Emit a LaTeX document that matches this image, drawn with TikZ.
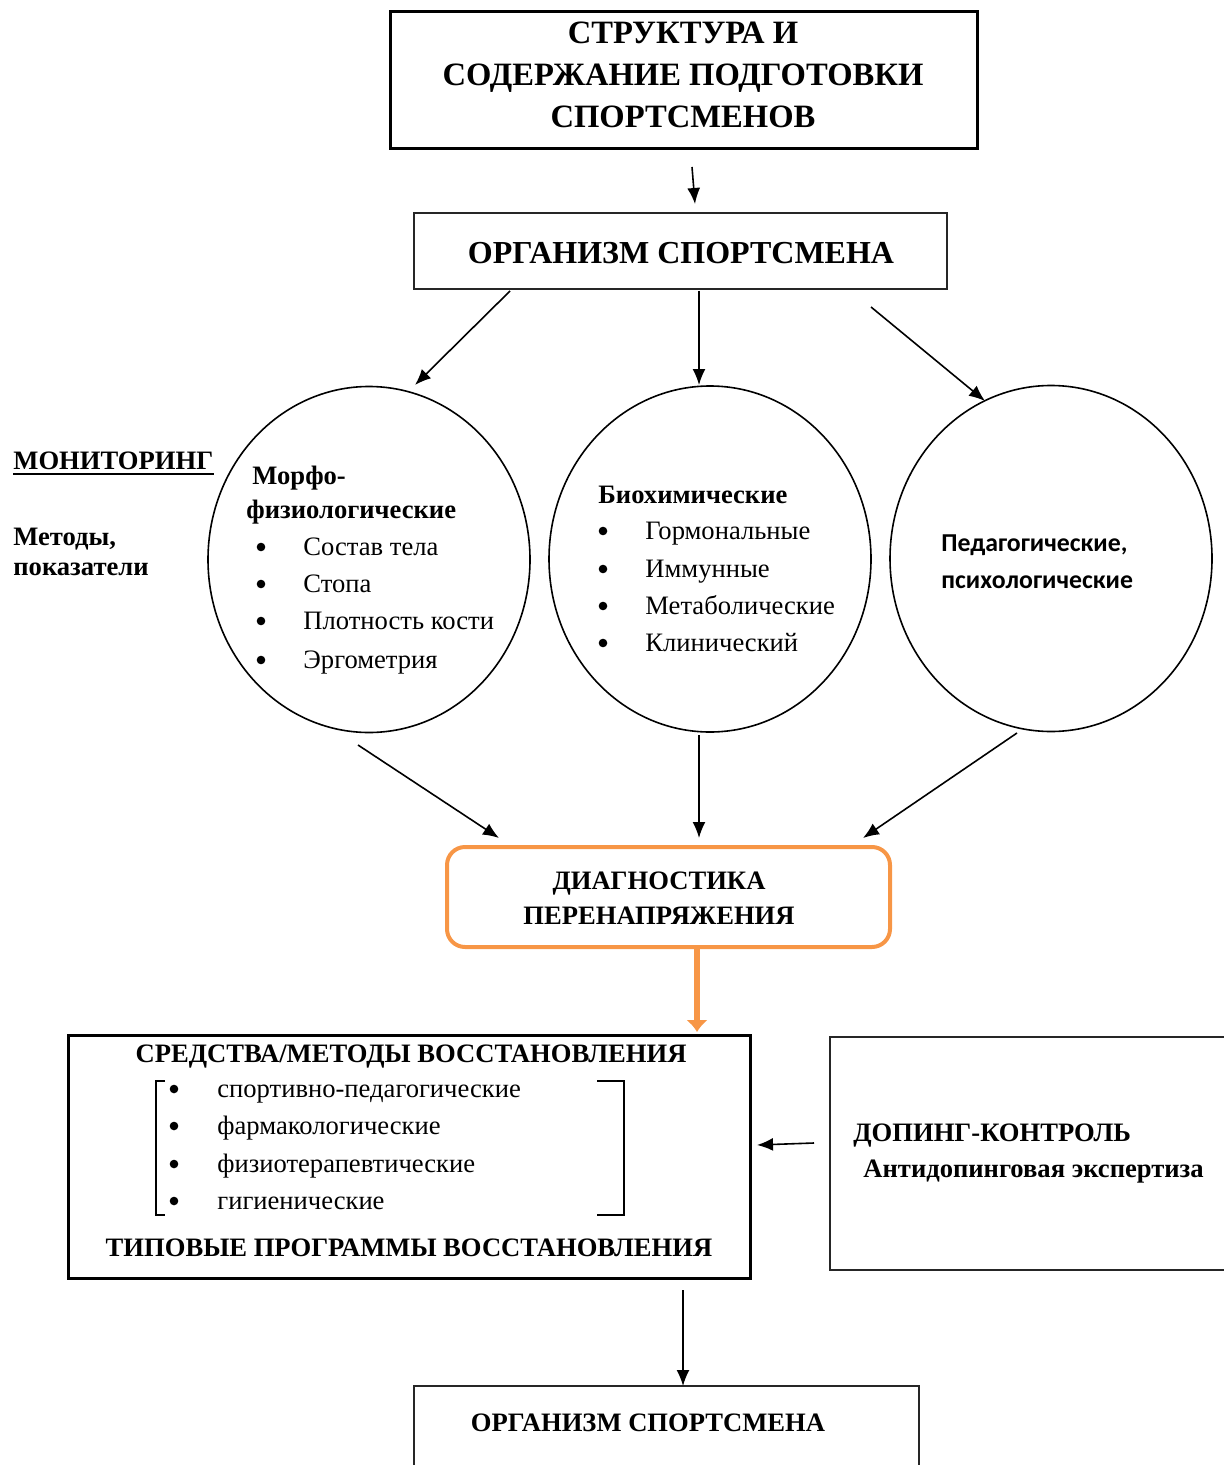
\documentclass[tikz,border=0pt]{standalone}
\usepackage{fontspec}
\setmainfont{Liberation Serif}
\newfontfamily\calibfont{Carlito}
\usetikzlibrary{shapes.geometric,arrows.meta}
\definecolor{orng}{HTML}{F79646}
\newcommand\fTitle{\fontsize{16.3}{21}\selectfont\bfseries}
\newcommand\fBig{\fontsize{16}{20}\selectfont\bfseries}
\newcommand\fMid{\fontsize{13.3}{17}\selectfont\bfseries}
\newcommand\fTxt{\fontsize{13.3}{17}\selectfont}
\begin{document}
\begin{tikzpicture}[x=0.5pt,y=-0.5pt,
  arr/.style={line width=0.8pt,-{Latex[length=8pt,width=6.5pt]}},
  orarr/.style={line width=3pt,draw=orng,-{Latex[length=6pt,width=11pt]},orng},
  tl/.style={inner sep=0pt,anchor=base west},
  tc/.style={inner sep=0pt,anchor=base},
  thickbox/.style={draw,line width=1.5pt,inner sep=0pt},
  thinbox/.style={draw=black!85,line width=0.7pt,inner sep=0pt},
  circ/.style={draw,ellipse,line width=0.8pt,inner sep=0pt,minimum width=161pt,minimum height=173pt},
  bul/.style={fill,circle,inner sep=0pt,minimum size=4.3pt},
  brk/.style={line width=0.8pt}]
\useasboundingbox (0,0) rectangle (1224,1465);
\clip (0,0) rectangle (1224,1465);

% top box
\node[thickbox,minimum width=293.5pt,minimum height=68.5pt] (b1) at (683.5,80.5) {};
\node[tc] (t1) at (683,44) {\fTitle СТРУКТУРА И};
\node[tc] (t2) at (683,86) {\fTitle СОДЕРЖАНИЕ ПОДГОТОВКИ};
\node[tc] (t3) at (683,128) {\fTitle СПОРТСМЕНОВ};

% organism box
\node[thinbox,minimum width=266.5pt,minimum height=38pt] (b2) at (680.5,251) {};
\node[tc] (b2t) at (681,264) {\fBig ОРГАНИЗМ СПОРТСМЕНА};

% left labels
\node[tl] (mon) at (13,469) {\fMid МОНИТОРИНГ};
\draw[line width=1pt] ([yshift=-2.5pt]mon.base west) -- ([yshift=-2.5pt]mon.base east);
\node[tl] (met1) at (13,545) {\fMid Методы,};
\node[tl] (met2) at (13,575) {\fMid показатели};

% circles
\node[circ] (c1) at (369,559.5) {};
\node[circ] (c2) at (710,559) {};
\node[circ] (c3) at (1051,558.5) {};

% circle 1 text
\node[tl] (c1h1) at (252,484) {\fMid Морфо-};
\node[tl] (c1h2) at (246,518) {\fMid физиологические};
\foreach \yy/\txt [count=\i] in {555/Состав тела,592/Стопа,629/Плотность кости,668/Эргометрия}{
  \node[bul] (c1b\i) at (261,\yy-8) {};
  \node[tl] (c1i\i) at (303,\yy) {\fTxt \txt};
}
% circle 2 text
\node[tl] (c2h) at (598,503) {\fMid Биохимические};
\foreach \yy/\txt [count=\i] in {539/Гормональные,577/Иммунные,614/Метаболические,651/Клинический}{
  \node[bul] (c2b\i) at (603,\yy-8) {};
  \node[tl] (c2i\i) at (645,\yy) {\fTxt \txt};
}
% circle 3 text
\node[tl] (c3h1) at (941,551) {\calibfont\fontsize{12.9}{15}\selectfont\bfseries Педагогические,};
\node[tl] (c3h2) at (941,588) {\calibfont\fontsize{12.9}{15}\selectfont\bfseries психологические};

% diagnostics
\node[draw=orng,line width=2pt,rounded corners=9pt,minimum width=221.5pt,minimum height=50pt,inner sep=0pt] (dg) at (668.5,897) {};
\node[tc] (dg1) at (659,889) {\fMid ДИАГНОСТИКА};
\node[tc] (dg2) at (659,924) {\fMid ПЕРЕНАПРЯЖЕНИЯ};

% recovery box
\node[thickbox,minimum width=341pt,minimum height=121.5pt] (b3) at (409,1156.5) {};
\node[tc] (b3h) at (411,1062) {\fMid СРЕДСТВА/МЕТОДЫ ВОССТАНОВЛЕНИЯ};
\foreach \yy/\txt [count=\i] in {1097/спортивно-педагогические,1134/фармакологические,1172/физиотерапевтические,1209/гигиенические}{
  \node[bul] (b3b\i) at (174,\yy-8) {};
  \node[tl] (b3i\i) at (217,\yy) {\fTxt \txt};
}
\node[tc] (b3f) at (409,1256) {\fMid ТИПОВЫЕ ПРОГРАММЫ ВОССТАНОВЛЕНИЯ};
\coordinate (lb1) at (165,1081); \coordinate (lb2) at (156,1081);
\coordinate (lb3) at (156,1215); \coordinate (lb4) at (165,1215);
\draw[brk] (lb1) -- (lb2) -- (lb3) -- (lb4);
\coordinate (rb1) at (597,1081); \coordinate (rb2) at (624,1081);
\coordinate (rb3) at (624,1215); \coordinate (rb4) at (597,1215);
\draw[brk] (rb1) -- (rb2) -- (rb3) -- (rb4);

% doping box
\node[thinbox,minimum width=202pt,minimum height=116.5pt] (b4) at (1032,1153.5) {};
\node[tl] (b4a) at (853,1141) {\fMid ДОПИНГ-КОНТРОЛЬ};
\node[tl] (b4b) at (863,1177) {\fMid Антидопинговая экспертиза};

% bottom box
\node[thinbox,minimum width=252.5pt,minimum height=50pt] (b5) at (666.5,1436) {};
\node[tc] (b5t) at (648,1431) {\fMid ОРГАНИЗМ СПОРТСМЕНА};

% arrows
\coordinate (a0s) at (692,167); \coordinate (a0e) at (695,204);
\draw[arr] (a0s) -- (a0e);
\coordinate (a1s) at (510,291); \coordinate (a1e) at (415,385);
\draw[arr] (a1s) -- (a1e);
\coordinate (a2s) at (699,291); \coordinate (a2e) at (699,385);
\draw[arr] (a2s) -- (a2e);
\coordinate (a3s) at (871,307); \coordinate (a3e) at (985,401);
\draw[arr] (a3s) -- (a3e);
\coordinate (a4s) at (358,745); \coordinate (a4e) at (499,838);
\draw[arr] (a4s) -- (a4e);
\coordinate (a5s) at (699,735); \coordinate (a5e) at (699,838);
\draw[arr] (a5s) -- (a5e);
\coordinate (a6s) at (1017,733); \coordinate (a6e) at (863,838);
\draw[arr] (a6s) -- (a6e);
\coordinate (oas) at (697,949); \coordinate (oae) at (697,1032);
\draw[orarr] (oas) -- (oae);
\coordinate (a7s) at (814,1143); \coordinate (a7e) at (757,1145);
\draw[arr] (a7s) -- (a7e);
\coordinate (a8s) at (683,1290); \coordinate (a8e) at (683,1386);
\draw[arr] (a8s) -- (a8e);
\end{tikzpicture}
\end{document}
